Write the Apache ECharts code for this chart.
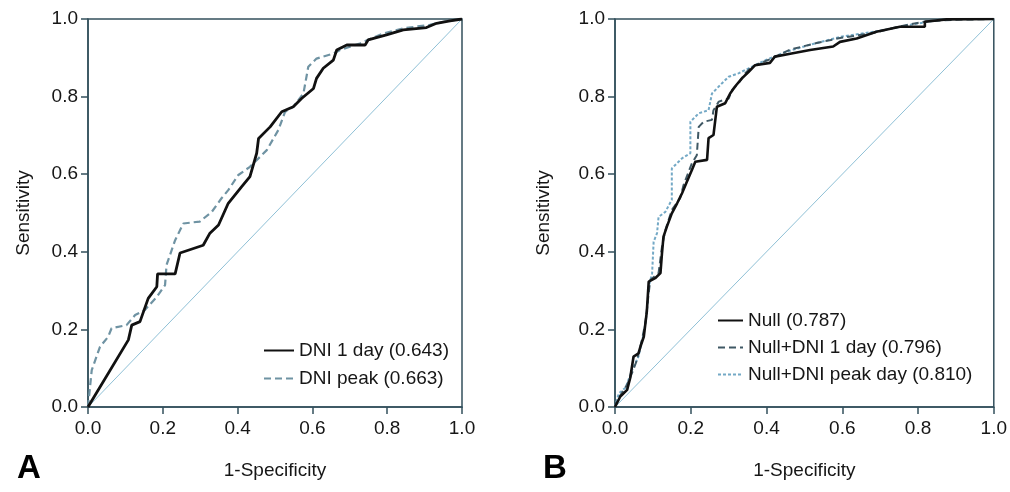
<!DOCTYPE html>
<html>
<head>
<meta charset="utf-8">
<script src="https://cdn.jsdelivr.net/npm/echarts@6/dist/echarts.min.js"></script>
<style>
html,body{margin:0;padding:0;background:#fff;}
#chart{width:1010px;height:492px;}
</style>
</head>
<body>
<div id="chart"></div>
<script>
// ---- Data ----
var tickValues = [0, 0.2, 0.4, 0.6, 0.8, 1.0];
var diagX = [0, 1];
var diagY = [0, 1];

// Panel A
var aDni1dayName = 'DNI 1 day (0.643)';
var aDni1dayX = [0, 0.108, 0.117, 0.139, 0.161, 0.184, 0.186, 0.233, 0.246, 0.308, 0.326, 0.349, 0.375, 0.411, 0.433, 0.451, 0.456, 0.487, 0.518, 0.549, 0.571, 0.603, 0.611, 0.629, 0.656, 0.665, 0.692, 0.741, 0.749, 0.798, 0.843, 0.905, 0.932, 0.968, 1];
var aDni1dayY = [0, 0.173, 0.211, 0.22, 0.28, 0.31, 0.343, 0.343, 0.397, 0.417, 0.448, 0.469, 0.525, 0.568, 0.594, 0.654, 0.692, 0.722, 0.761, 0.774, 0.795, 0.821, 0.847, 0.873, 0.894, 0.92, 0.933, 0.933, 0.946, 0.959, 0.972, 0.978, 0.989, 0.995, 1];

var aDniPeakName = 'DNI peak (0.663)';
var aDniPeakX = [0, 0.01, 0.032, 0.054, 0.063, 0.103, 0.126, 0.152, 0.184, 0.206, 0.21, 0.224, 0.233, 0.255, 0.299, 0.331, 0.357, 0.375, 0.402, 0.433, 0.478, 0.509, 0.527, 0.549, 0.576, 0.589, 0.611, 0.656, 0.674, 0.727, 0.79, 0.843, 0.914, 0.95, 1];
var aDniPeakY = [0, 0.095, 0.155, 0.181, 0.203, 0.211, 0.237, 0.25, 0.284, 0.314, 0.366, 0.405, 0.43, 0.473, 0.478, 0.503, 0.538, 0.559, 0.598, 0.619, 0.662, 0.714, 0.761, 0.774, 0.808, 0.877, 0.898, 0.911, 0.92, 0.937, 0.963, 0.976, 0.985, 0.993, 1];

// Panel B
var bNullName = 'Null (0.787)';
var bNullX = [0, 0.014, 0.032, 0.04, 0.049, 0.062, 0.067, 0.076, 0.084, 0.089, 0.106, 0.12, 0.124, 0.128, 0.137, 0.15, 0.164, 0.177, 0.19, 0.203, 0.212, 0.243, 0.247, 0.26, 0.269, 0.291, 0.304, 0.317, 0.335, 0.353, 0.37, 0.409, 0.422, 0.466, 0.515, 0.576, 0.594, 0.638, 0.69, 0.752, 0.818, 0.818, 0.875, 1];
var bNullY = [0, 0.027, 0.044, 0.074, 0.13, 0.138, 0.155, 0.181, 0.246, 0.323, 0.332, 0.345, 0.396, 0.439, 0.465, 0.499, 0.525, 0.551, 0.581, 0.611, 0.632, 0.637, 0.693, 0.701, 0.774, 0.783, 0.808, 0.826, 0.847, 0.864, 0.881, 0.887, 0.903, 0.911, 0.92, 0.929, 0.941, 0.95, 0.967, 0.98, 0.98, 0.993, 0.999, 1];

var bNull1dayName = 'Null+DNI 1 day (0.796)';
var bNull1dayX = [0, 0.012, 0.032, 0.045, 0.058, 0.071, 0.08, 0.089, 0.093, 0.115, 0.124, 0.133, 0.15, 0.172, 0.181, 0.203, 0.216, 0.221, 0.234, 0.256, 0.26, 0.274, 0.3, 0.309, 0.326, 0.344, 0.361, 0.418, 0.462, 0.532, 0.594, 0.682, 0.752, 0.822, 0.893, 1];
var bNull1dayY = [0, 0.027, 0.057, 0.088, 0.121, 0.173, 0.216, 0.293, 0.327, 0.345, 0.413, 0.456, 0.508, 0.538, 0.572, 0.628, 0.649, 0.722, 0.735, 0.74, 0.765, 0.787, 0.795, 0.817, 0.834, 0.86, 0.877, 0.9, 0.921, 0.938, 0.951, 0.964, 0.981, 0.994, 0.998, 1];

var bNullPeakName = 'Null+DNI peak day (0.810)';
var bNullPeakX = [0, 0.01, 0.028, 0.045, 0.062, 0.076, 0.084, 0.089, 0.098, 0.102, 0.111, 0.115, 0.133, 0.15, 0.15, 0.177, 0.199, 0.199, 0.221, 0.247, 0.256, 0.282, 0.3, 0.326, 0.353, 0.37, 0.4, 0.45, 0.52, 0.6, 0.7, 0.78, 0.85, 0.9, 1];
var bNullPeakY = [0, 0.035, 0.05, 0.095, 0.13, 0.19, 0.241, 0.31, 0.345, 0.426, 0.448, 0.49, 0.503, 0.534, 0.615, 0.641, 0.654, 0.735, 0.757, 0.765, 0.808, 0.834, 0.851, 0.86, 0.873, 0.881, 0.895, 0.915, 0.935, 0.955, 0.97, 0.985, 0.997, 1, 1];

var xAxisName = '1-Specificity';
var yAxisName = 'Sensitivity';
var panelLabels = ['A', 'B'];

// ---- Helpers ----
function pairs(xs, ys) { return xs.map(function (x, i) { return [x, ys[i]]; }); }

var FONT = '"Liberation Sans", Arial, Helvetica, sans-serif';
var AXIS_COLOR = '#33505c';
var TEXT_COLOR = '#161616';

function makeXAxis(gi) {
  return {
    gridIndex: gi, type: 'value', min: 0, max: 1, interval: 0.2,
    name: xAxisName, nameLocation: 'middle', nameGap: 54,
    nameTextStyle: { fontSize: 19, color: TEXT_COLOR, fontFamily: FONT },
    axisLine: { show: true, onZero: false, lineStyle: { color: AXIS_COLOR, width: 1.5 } },
    axisTick: { show: true, inside: false, length: 7, lineStyle: { color: AXIS_COLOR, width: 1.5 } },
    axisLabel: { fontSize: 19, color: TEXT_COLOR, fontFamily: FONT, margin: 12,
      formatter: function (v) { return v.toFixed(1); } },
    splitLine: { show: false }
  };
}
function makeYAxis(gi, gap) {
  return {
    gridIndex: gi, type: 'value', min: 0, max: 1, interval: 0.2,
    name: yAxisName, nameLocation: 'middle', nameGap: gap, nameRotate: 90,
    nameTextStyle: { fontSize: 19, color: TEXT_COLOR, fontFamily: FONT },
    axisLine: { show: true, onZero: false, lineStyle: { color: AXIS_COLOR, width: 1.5 } },
    axisTick: { show: true, inside: false, length: 7, lineStyle: { color: AXIS_COLOR, width: 1.5 } },
    axisLabel: { fontSize: 19, color: TEXT_COLOR, fontFamily: FONT, margin: 10,
      formatter: function (v) { return v.toFixed(1); } },
    splitLine: { show: false }
  };
}
function curve(name, gi, xs, ys, color, type, width) {
  return {
    name: name, type: 'line', xAxisIndex: gi, yAxisIndex: gi,
    data: pairs(xs, ys), symbol: 'none', showSymbol: false, animation: false,
    lineStyle: { color: color, width: width, type: type }, itemStyle: { color: color },
    z: 3
  };
}
function diag(gi) {
  return {
    type: 'line', xAxisIndex: gi, yAxisIndex: gi, data: pairs(diagX, diagY),
    symbol: 'none', silent: true, animation: false,
    lineStyle: { color: '#8fc0d6', width: 1 }, z: 2
  };
}

var legendCommon = {
  orient: 'vertical', itemHeight: 20, padding: 0,
  itemStyle: { opacity: 0, borderWidth: 0 },
  textStyle: { fontSize: 19, color: TEXT_COLOR, fontFamily: FONT }
};

var chart = echarts.init(document.getElementById('chart'), null, { renderer: 'canvas' });
chart.setOption({
  backgroundColor: '#ffffff',
  animation: false,
  textStyle: { fontFamily: FONT },
  title: [
    { text: panelLabels[0], left: 17, top: 452, padding: 0,
      textStyle: { fontSize: 33, fontWeight: 'bold', color: '#000', fontFamily: FONT } },
    { text: panelLabels[1], left: 543, top: 452, padding: 0,
      textStyle: { fontSize: 33, fontWeight: 'bold', color: '#000', fontFamily: FONT } }
  ],
  grid: [
    { left: 88, top: 19, width: 374, height: 388, show: true, borderColor: AXIS_COLOR, borderWidth: 1.5, backgroundColor: 'transparent' },
    { left: 615, top: 19, width: 379, height: 388, show: true, borderColor: AXIS_COLOR, borderWidth: 1.5, backgroundColor: 'transparent' }
  ],
  xAxis: [makeXAxis(0), makeXAxis(1)],
  yAxis: [makeYAxis(0, 55), makeYAxis(1, 62)],
  legend: [
    Object.assign({}, legendCommon, { data: [aDni1dayName, aDniPeakName], left: 263, top: 341, itemWidth: 30, itemGap: 9 }),
    Object.assign({}, legendCommon, { data: [bNullName, bNull1dayName, bNullPeakName], left: 717, top: 311, itemWidth: 25, itemGap: 8 })
  ],
  series: [
    diag(0),
    curve(aDniPeakName, 0, aDniPeakX, aDniPeakY, '#6f93a3', [7, 4], 2.2),
    curve(aDni1dayName, 0, aDni1dayX, aDni1dayY, '#111111', 'solid', 2.8),
    diag(1),
    curve(bNullPeakName, 1, bNullPeakX, bNullPeakY, '#74a9c6', [3, 2], 2),
    curve(bNull1dayName, 1, bNull1dayX, bNull1dayY, '#3f5864', [7, 4], 2),
    curve(bNullName, 1, bNullX, bNullY, '#111111', 'solid', 2.6)
  ]
});
</script>
</body>
</html>
